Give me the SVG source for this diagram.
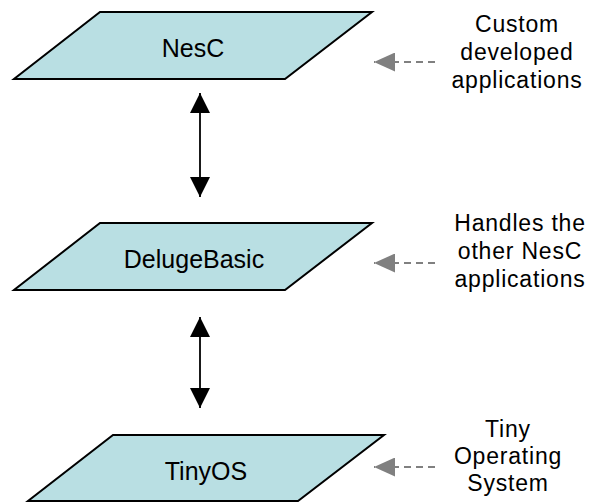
<svg xmlns="http://www.w3.org/2000/svg" width="598" height="503" viewBox="0 0 598 503">
<defs>
<style>
.layer{fill:#B9DFE3;stroke:#000;stroke-width:2;stroke-linejoin:miter}
.lbl{font-family:"Liberation Sans",Arial,sans-serif;font-size:25px;fill:#000;text-anchor:middle}
.note{font-family:"Liberation Sans",Arial,sans-serif;font-size:23px;letter-spacing:0.8px;fill:#000;text-anchor:middle}
.dbl{stroke:#000;stroke-width:1.8;fill:none}
.dash{stroke:#808080;stroke-width:2;stroke-dasharray:7 5;fill:none}
</style>
<marker id="blk" viewBox="0 0 20 20" refX="20" refY="10" markerWidth="20" markerHeight="20" markerUnits="userSpaceOnUse" orient="auto-start-reverse">
<path d="M0,0 L20,10 L0,20 Z" fill="#000"/>
</marker>
<marker id="gry" viewBox="0 0 21 19" refX="21" refY="9.5" markerWidth="21" markerHeight="19" markerUnits="userSpaceOnUse" orient="auto">
<path d="M0,0 L21,9.5 L0,19 Z" fill="#808080"/>
</marker>
</defs>
<g id="nesc">
<polygon class="layer" points="100,12 372,12 285,79 14,79"/>
<text class="lbl" x="193" y="57">NesC</text>
</g>
<g id="delugebasic">
<polygon class="layer" points="100,223 372,223 285,290 14,290"/>
<text class="lbl" x="194" y="268">DelugeBasic</text>
</g>
<g id="tinyos">
<polygon class="layer" points="113,435 384,435 298,501 28,501"/>
<text class="lbl" x="206" y="480">TinyOS</text>
</g>
<g id="note-nesc">
<text class="note" x="517" y="32">Custom</text>
<text class="note" x="517" y="60">developed</text>
<text class="note" x="517" y="88">applications</text>
</g>
<g id="note-deluge">
<text class="note" x="520" y="231">Handles the</text>
<text class="note" x="520" y="259">other NesC</text>
<text class="note" x="520" y="287">applications</text>
</g>
<g id="note-tinyos">
<text class="note" x="508" y="437">Tiny</text>
<text class="note" x="508" y="464">Operating</text>
<text class="note" x="508" y="491">System</text>
</g>
<g id="connectors">
<line class="dbl" x1="200" y1="93" x2="200" y2="197" marker-start="url(#blk)" marker-end="url(#blk)"/>
<line class="dbl" x1="200" y1="317" x2="200" y2="408" marker-start="url(#blk)" marker-end="url(#blk)"/>
<line class="dash" x1="435" y1="62" x2="374" y2="62" marker-end="url(#gry)"/>
<line class="dash" x1="435" y1="263" x2="374" y2="263" marker-end="url(#gry)"/>
<line class="dash" x1="435" y1="467" x2="374" y2="467" marker-end="url(#gry)"/>
</g>
</svg>
